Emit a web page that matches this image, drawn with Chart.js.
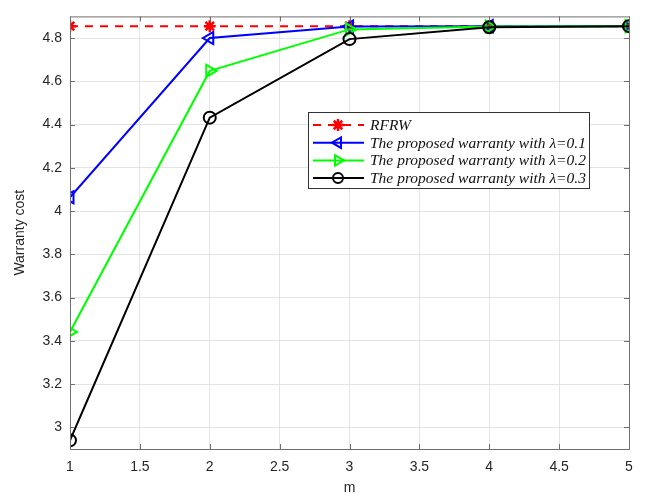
<!DOCTYPE html>
<html>
<head>
<meta charset="utf-8">
<script src="https://cdn.jsdelivr.net/npm/chart.js@4/dist/chart.umd.min.js"></script>
<style>
  html, body { margin: 0; padding: 0; background: #fff; }
  #wrap { width: 645px; height: 501px; }
</style>
</head>
<body>
<div id="wrap"><canvas id="c" width="645" height="501"></canvas></div>
<script>
// data
const mValues = [1, 2, 3, 4, 5];
const rfrw   = [4.855, 4.855, 4.855, 4.855, 4.855];
const lam01  = [4.064, 4.800, 4.853, 4.855, 4.855];
const lam02  = [3.441, 4.648, 4.840, 4.853, 4.855];
const lam03  = [2.940, 4.432, 4.795, 4.850, 4.855];
const seriesNames = ['RFRW', 'The proposed warranty with \u03bb=0.1',
                     'The proposed warranty with \u03bb=0.2', 'The proposed warranty with \u03bb=0.3'];
const xTicks = [1, 1.5, 2, 2.5, 3, 3.5, 4, 4.5, 5];
const yTicks = [3, 3.2, 3.4, 3.6, 3.8, 4, 4.2, 4.4, 4.6, 4.8];

const pts = arr => arr.map((v, i) => ({ x: mValues[i], y: v }));
const fmt = v => String(Math.round(v * 10) / 10);

const axisColor = '#6f6f6f';
const tickFont = { family: 'Liberation Sans', size: 14 };

// box around plot + inward ticks, like matlab
const boxPlugin = {
  id: 'box',
  afterDraw(chart) {
    const { ctx, chartArea: a, scales } = chart;
    ctx.save();
    ctx.strokeStyle = axisColor;
    ctx.lineWidth = 1;
    ctx.strokeRect(a.left + 0.5, a.top + 0.5, a.right - a.left, a.bottom - a.top);
    ctx.beginPath();
    xTicks.forEach(v => {
      const x = Math.round(scales.x.getPixelForValue(v)) + 0.5;
      ctx.moveTo(x, a.bottom); ctx.lineTo(x, a.bottom - 5);
      ctx.moveTo(x, a.top); ctx.lineTo(x, a.top + 5);
    });
    yTicks.forEach(v => {
      const y = Math.round(scales.y.getPixelForValue(v)) + 0.5;
      ctx.moveTo(a.left, y); ctx.lineTo(a.left + 5, y);
      ctx.moveTo(a.right, y); ctx.lineTo(a.right - 5, y);
    });
    ctx.stroke();
    ctx.restore();
  }
};

function drawMarker(ctx, style, color, x, y) {
  ctx.save();
  ctx.strokeStyle = color;
  ctx.fillStyle = color;
  ctx.lineWidth = 2;
  const r = 6;
  ctx.beginPath();
  if (style === 'star') {
    for (let k = 0; k < 4; k++) {
      const ang = k * Math.PI / 4;
      ctx.moveTo(x - r * Math.cos(ang), y - r * Math.sin(ang));
      ctx.lineTo(x + r * Math.cos(ang), y + r * Math.sin(ang));
    }
    ctx.lineWidth = 2.5;
    ctx.stroke();
  } else if (style === 'left' || style === 'right') {
    const d = style === 'left' ? -1 : 1;
    ctx.moveTo(x + d * r, y);
    ctx.lineTo(x - d * r * 0.5, y - r * 0.87);
    ctx.lineTo(x - d * r * 0.5, y + r * 0.87);
    ctx.closePath();
    ctx.stroke();
  } else {
    ctx.arc(x, y, 5, 0, Math.PI * 2);
    ctx.stroke();
  }
  ctx.restore();
}

const legendPlugin = {
  id: 'boxLegend',
  afterDraw(chart) {
    const { ctx } = chart;
    const styles = ['star', 'left', 'right', 'circle'];
    const colors = ['#ff0000', '#0000ff', '#00ff00', '#000000'];
    const bx = 308, by = 112, bw = 281, bh = 76;
    ctx.save();
    ctx.fillStyle = '#fff';
    ctx.fillRect(bx, by, bw, bh);
    ctx.strokeStyle = '#333';
    ctx.lineWidth = 1;
    ctx.strokeRect(bx + 0.5, by + 0.5, bw, bh);
    ctx.font = 'italic 15.5px "Liberation Serif"';
    ctx.textBaseline = 'middle';
    seriesNames.forEach((name, i) => {
      const y = 125 + i * 17.7;
      ctx.strokeStyle = colors[i];
      ctx.lineWidth = 2;
      ctx.setLineDash(i === 0 ? [8, 7] : []);
      ctx.beginPath();
      ctx.moveTo(313, y); ctx.lineTo(364, y);
      ctx.stroke();
      ctx.setLineDash([]);
      drawMarker(ctx, styles[i], colors[i], 338, y);
      ctx.fillStyle = '#111';
      ctx.fillText(name, 370, y + 1);
    });
    ctx.restore();
  }
};

new Chart(document.getElementById('c'), {
  type: 'line',
  data: {
    datasets: [
      { label: seriesNames[0], data: pts(rfrw), borderColor: '#ff0000', borderDash: [8, 7],
        pointStyle: 'star', pointRadius: 6, pointBorderWidth: 2.5, pointBorderColor: '#ff0000',
        pointBackgroundColor: '#ff0000', order: 4 },
      { label: seriesNames[1], data: pts(lam01), borderColor: '#0000ff',
        pointStyle: 'triangle', pointRotation: -90, pointRadius: 7, order: 3 },
      { label: seriesNames[2], data: pts(lam02), borderColor: '#00ff00',
        pointStyle: 'triangle', pointRotation: 90, pointRadius: 7, order: 2 },
      { label: seriesNames[3], data: pts(lam03), borderColor: '#000000',
        pointStyle: 'circle', pointRadius: 6, order: 1 }
    ].map(d => Object.assign({ borderWidth: 2, pointBorderWidth: 2, tension: 0,
        pointBackgroundColor: 'rgba(0,0,0,0)', pointBorderColor: d.borderColor }, d))
  },
  options: {
    responsive: false,
    animation: false,
    layout: { padding: { top: 9, right: 16, left: 0, bottom: 0 } },
    plugins: { legend: { display: false }, tooltip: { enabled: false } },
    scales: {
      x: {
        type: 'linear', min: 1, max: 5,
        afterBuildTicks: s => { s.ticks = xTicks.map(v => ({ value: v })); },
        afterFit: s => { s.height = 52; },
        grid: { color: '#e4e4e4', drawTicks: false },
        border: { display: false },
        ticks: { color: '#262626', font: tickFont, padding: 10, maxRotation: 0, callback: fmt },
        title: { display: true, text: 'm', color: '#262626', font: tickFont, padding: { top: 4 } }
      },
      y: {
        min: 2.9, max: 4.9,
        afterBuildTicks: s => { s.ticks = yTicks.map(v => ({ value: v })); },
        afterFit: s => { s.width = 70; },
        grid: { color: '#e4e4e4', drawTicks: false },
        border: { display: false },
        ticks: { color: '#262626', font: tickFont, padding: 8, callback: fmt },
        title: { display: true, text: 'Warranty cost', color: '#262626', font: tickFont,
                 padding: { top: 12, bottom: 4 } }
      }
    }
  },
  plugins: [boxPlugin, legendPlugin]
});
</script>
</body>
</html>
